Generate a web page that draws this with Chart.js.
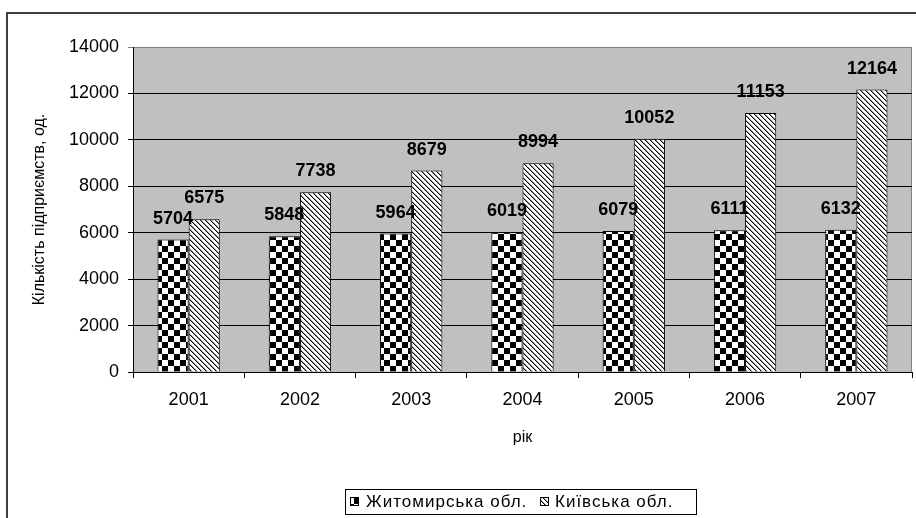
<!DOCTYPE html>
<html>
<head>
<meta charset="utf-8">
<script src="https://cdn.jsdelivr.net/npm/chart.js@4.4.1/dist/chart.umd.min.js"></script>
<style>
  html, body { margin: 0; padding: 0; background: #fff; }
</style>
</head>
<body>
<canvas id="barChart" width="916" height="518"></canvas>
<script>
const years = ["2001", "2002", "2003", "2004", "2005", "2006", "2007"];
const zhytomyrValues = [5704, 5848, 5964, 6019, 6079, 6111, 6132];
const kyivValues = [6575, 7738, 8679, 8994, 10052, 11153, 12164];
const seriesNames = ["Житомирська обл.", "Київська обл."];
const yAxisTitle = "Кількість підприємств, од.";
const xAxisTitle = "рік";

const FONT = '"Liberation Sans", Arial, sans-serif';

/* ---------- fill patterns ---------- */

function checkerPattern() {
  const c = document.createElement("canvas");
  c.width = 12;
  c.height = 12;
  const g = c.getContext("2d");
  g.fillStyle = "#fff";
  g.fillRect(0, 0, 12, 12);
  g.fillStyle = "#000";
  g.fillRect(0, 0, 6, 6);
  g.fillRect(6, 6, 6, 6);
  return g.createPattern(c, "repeat");
}

function hatchPattern() {
  const n = 5;
  const c = document.createElement("canvas");
  c.width = n;
  c.height = n;
  const g = c.getContext("2d");
  const img = g.createImageData(n, n);
  for (let y = 0; y < n; y++) {
    for (let x = 0; x < n; x++) {
      const d = (((x - y) % n) + n) % n;
      const v = d === 0 ? 0 : d === 1 ? 150 : 255;
      const i = (y * n + x) * 4;
      img.data[i] = v;
      img.data[i + 1] = v;
      img.data[i + 2] = v;
      img.data[i + 3] = 255;
    }
  }
  g.putImageData(img, 0, 0);
  return g.createPattern(c, "repeat");
}

const fills = [checkerPattern(), hatchPattern()];

/* ---------- plugins ---------- */

const frame = {
  id: "frame",
  beforeDraw(chart) {
    const { ctx, chartArea: a } = chart;
    ctx.save();
    ctx.fillStyle = "#fff";
    ctx.fillRect(0, 0, chart.width, chart.height);
    ctx.strokeStyle = "#404040";
    ctx.lineWidth = 2;
    ctx.strokeRect(7, 13, 940, 540);
    ctx.fillStyle = "#c0c0c0";
    ctx.fillRect(a.left, a.top, a.right - a.left, a.bottom - a.top);
    ctx.strokeStyle = "#808080";
    ctx.lineWidth = 1;
    ctx.beginPath();
    ctx.moveTo(a.left, a.top + 0.5);
    ctx.lineTo(a.right - 0.5, a.top + 0.5);
    ctx.lineTo(a.right - 0.5, a.bottom);
    ctx.stroke();
    ctx.restore();
  },
};

const valueLabels = {
  id: "valueLabels",
  afterDatasetsDraw(chart) {
    const ctx = chart.ctx;
    ctx.save();
    ctx.font = "bold 18px " + FONT;
    ctx.fillStyle = "#000";
    ctx.textAlign = "center";
    ctx.textBaseline = "alphabetic";
    chart.data.datasets.forEach((ds, i) => {
      chart.getDatasetMeta(i).data.forEach((bar, j) => {
        ctx.fillText(String(ds.data[j]), bar.x, bar.y - 16);
      });
    });
    ctx.restore();
  },
};

const boxedLegend = {
  id: "boxedLegend",
  afterDraw(chart) {
    const ctx = chart.ctx;
    ctx.save();
    ctx.strokeStyle = "#000";
    ctx.lineWidth = 1;
    ctx.strokeRect(345.5, 489.5, 351, 25);
    ctx.font = "17px " + FONT;
    ctx.letterSpacing = "1px";
    ctx.textBaseline = "middle";
    const items = [
      { mark: 350, text: 366 },
      { mark: 540, text: 555 },
    ];
    items.forEach((it, i) => {
      ctx.fillStyle = fills[i];
      ctx.fillRect(it.mark, 497, 9, 9);
      ctx.strokeStyle = "#000";
      ctx.strokeRect(it.mark + 0.5, 497.5, 8, 8);
      ctx.fillStyle = "#000";
      ctx.fillText(seriesNames[i], it.text, 502);
    });
    ctx.restore();
  },
};

/* ---------- chart ---------- */

new Chart(document.getElementById("barChart"), {
  type: "bar",
  data: {
    labels: years,
    datasets: [
      {
        label: seriesNames[0],
        data: zhytomyrValues,
        backgroundColor: fills[0],
        borderColor: "#000",
        borderWidth: 1,
      },
      {
        label: seriesNames[1],
        data: kyivValues,
        backgroundColor: fills[1],
        borderColor: "#000",
        borderWidth: 1,
      },
    ],
  },
  options: {
    responsive: false,
    animation: false,
    categoryPercentage: 0.56,
    barPercentage: 1,
    layout: { padding: { top: 47, right: 4, left: 0, bottom: 0 } },
    plugins: {
      legend: { display: false },
      tooltip: { enabled: false },
    },
    scales: {
      x: {
        afterFit: (s) => { s.height = 146; },
        grid: {
          offset: true,
          drawOnChartArea: false,
          color: "#000",
          tickLength: 6,
        },
        border: { color: "#000" },
        ticks: { color: "#000", font: { family: FONT, size: 18 }, padding: 11 },
        title: {
          display: true,
          text: xAxisTitle,
          color: "#000",
          font: { family: FONT, size: 16 },
          padding: { top: 0, bottom: 71 },
        },
      },
      y: {
        min: 0,
        max: 14000,
        afterFit: (s) => { s.width = 133; },
        grid: {
          color: (c) => (c.tick && c.tick.value === 14000 ? "#808080" : "#000"),
          tickLength: 5,
        },
        border: { color: "#000" },
        ticks: {
          stepSize: 2000,
          color: "#000",
          font: { family: FONT, size: 18 },
          padding: 9,
          callback: (v) => String(v),
        },
        title: {
          display: true,
          text: yAxisTitle,
          color: "#000",
          font: { family: FONT, size: 16 },
          padding: { top: 30, bottom: 0 },
        },
      },
    },
  },
  plugins: [frame, valueLabels, boxedLegend],
});
</script>
</body>
</html>
